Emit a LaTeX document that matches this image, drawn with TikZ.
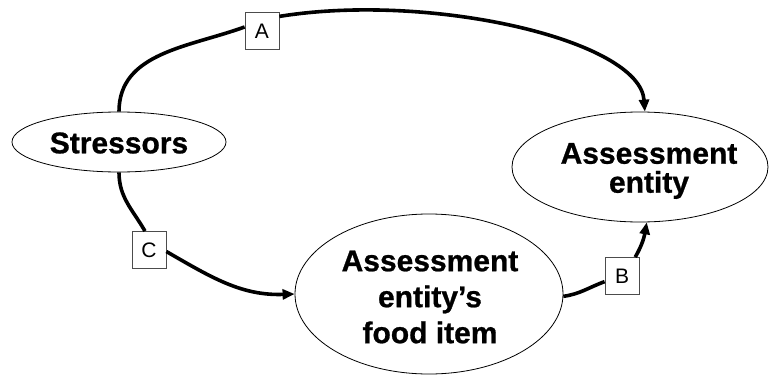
\documentclass[tikz,border=0pt]{standalone}
\usepackage{fontspec}
\setmainfont{Liberation Sans}
\newfontfamily\heavyfont{Liberation Sans}[BoldFeatures={FakeBold=0.8}]
\usetikzlibrary{shapes.geometric,arrows.meta}
\begin{document}
\begin{tikzpicture}[x=1pt,y=-1pt,
  blob/.style={draw,line width=0.8pt,ellipse,inner sep=0pt},
  caption/.style={align=center,inner sep=0pt},
  tag/.style={draw=black!70,line width=0.8pt,fill=white,minimum width=34pt,minimum height=37pt,inner sep=0pt,font=\fontsize{21}{21}\selectfont},
  flow/.style={line width=3.6pt},
  flowarrow/.style={flow,-{Triangle[length=12pt,width=10pt]}}]
\useasboundingbox (0,0) rectangle (769,375);
% ellipses
\node[blob,minimum width=214pt,minimum height=60pt] (stress) at (119,142) {};
\node[blob,minimum width=256pt,minimum height=110pt] (entity) at (640,167) {};
\node[blob,minimum width=268pt,minimum height=160pt] (food) at (429,294) {};
% texts
\node[caption,font=\heavyfont\bfseries\fontsize{30}{30}\selectfont] (stressT) at (119,143) {Stressors};
\node[caption,font=\heavyfont\bfseries\fontsize{30}{29}\selectfont] (entityT) at (649,171) {Assessment\\entity};
\node[caption,font=\heavyfont\bfseries\fontsize{30}{36}\selectfont] (foodT) at (430,297) {Assessment\\entity’s\\food item};
% labelled boxes
\node[tag] (A) at (262,31) {A};
\node[tag] (C) at (149,250) {C};
\node[tag] (B) at (622,276) {B};
% connectors
\draw[flow] (stress.north) to[out=90,in=200] (A.167);
\draw[flowarrow] (A.40) .. controls (430,-8) and (640,40) .. (entity.85);
\draw[flow] (stress.south) to[out=-90,in=120] (C.102);
\draw[flowarrow] (C.-5) to[out=-30,in=182] (food.west);
\draw[flow] (food.-1) to[out=8,in=200] (B.198);
\draw[flowarrow] (B.55) to[out=60,in=-100] (entity.-83);
\end{tikzpicture}
\end{document}
